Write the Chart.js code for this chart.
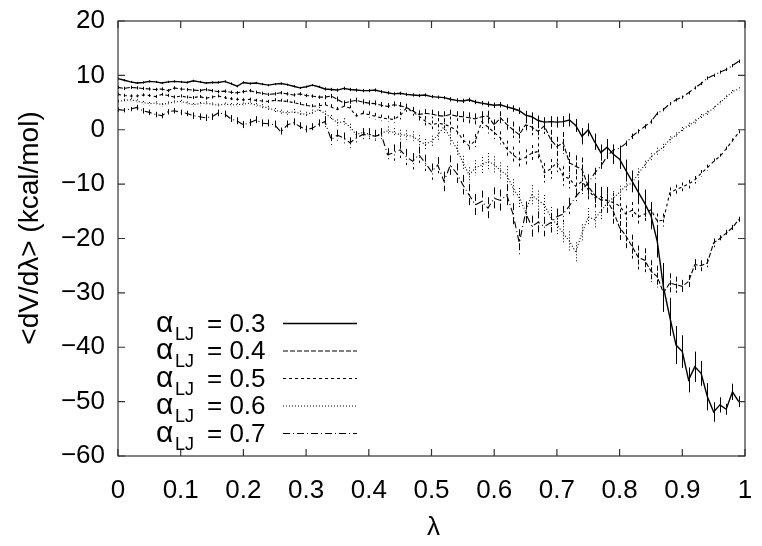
<!DOCTYPE html>
<html>
<head>
<meta charset="utf-8">
<script src="https://cdn.jsdelivr.net/npm/chart.js@4.4.1/dist/chart.umd.min.js"></script>
<style>
  html, body { margin: 0; padding: 0; background: #fff; }
  canvas { display: block; }
</style>
</head>
<body>
<canvas id="myChart" width="762" height="546"></canvas>
<script>
// lambda grid
const lambdas = [
  0.00, 0.01, 0.02, 0.03, 0.04, 0.05, 0.06, 0.07, 0.08, 0.09,
  0.10, 0.11, 0.12, 0.13, 0.14, 0.15, 0.16, 0.17, 0.18, 0.19,
  0.20, 0.21, 0.22, 0.23, 0.24, 0.25, 0.26, 0.27, 0.28, 0.29,
  0.30, 0.31, 0.32, 0.33, 0.34, 0.35, 0.36, 0.37, 0.38, 0.39,
  0.40, 0.41, 0.42, 0.43, 0.44, 0.45, 0.46, 0.47, 0.48, 0.49,
  0.50, 0.51, 0.52, 0.53, 0.54, 0.55, 0.56, 0.57, 0.58, 0.59,
  0.60, 0.61, 0.62, 0.63, 0.64, 0.65, 0.66, 0.67, 0.68, 0.69,
  0.70, 0.71, 0.72, 0.73, 0.74, 0.75, 0.76, 0.77, 0.78, 0.79,
  0.80, 0.81, 0.82, 0.83, 0.84, 0.85, 0.86, 0.87, 0.88, 0.89,
  0.90, 0.91, 0.92, 0.93, 0.94, 0.95, 0.96, 0.97, 0.98, 0.99
];
const alphaLJ = ['0.3', '0.4', '0.5', '0.6', '0.7'];
const xTicks = [0, 0.1, 0.2, 0.3, 0.4, 0.5, 0.6, 0.7, 0.8, 0.9, 1];
const yTicks = [-60, -50, -40, -30, -20, -10, 0, 10, 20];

// <dV/dlambda> (kcal/mol)
const dvdl_03 = [
  9.4, 9.1, 8.8, 8.6, 8.7, 8.9, 8.8, 8.6, 8.8, 8.9,
  8.8, 8.7, 9.0, 8.8, 8.6, 8.7, 8.7, 8.9, 8.5, 8.0,
  8.7, 8.5, 8.6, 8.4, 8.2, 8.4, 8.5, 8.3, 8.0, 7.7,
  7.9, 8.2, 7.9, 7.5, 7.4, 7.3, 7.6, 7.4, 7.3, 7.2,
  7.2, 7.3, 7.0, 6.8, 6.6, 6.7, 6.5, 6.4, 6.3, 6.4,
  6.1, 6.0, 5.9, 5.6, 5.4, 5.3, 5.5, 5.1, 4.9, 4.7,
  4.5, 4.6, 4.2, 3.9, 3.5, 2.7, 2.4, 1.7, 1.4, 1.5,
  1.4, 1.5, 1.8, 0.8, -1.2, 0.0, -2.2, -4.2, -3.2, -4.5,
  -5.4, -7.5, -9.5, -11.5, -13.5, -15.8, -20.5, -29.0, -34.4, -39.6,
  -40.8, -46.0, -43.6, -44.8, -49.1, -51.9, -50.6, -51.4, -48.2, -50.0
];
const dvdl_04 = [
  7.8, 7.6, 7.8, 7.7, 7.6, 7.5, 7.4, 7.5, 7.2, 7.7,
  7.5, 7.4, 7.3, 7.2, 7.4, 7.2, 7.0, 7.1, 6.9, 6.8,
  7.0, 7.2, 6.9, 6.7, 6.5, 6.6, 6.8, 6.6, 6.4, 6.6,
  6.3, 6.2, 6.0, 6.0, 6.2, 5.6, 4.9, 5.2, 5.4, 5.1,
  4.9, 4.8, 4.5, 4.3, 4.6, 4.4, 4.1, 3.5, 2.8, 3.0,
  2.9, 2.6, 2.5, 2.8, 2.5, 2.4, 2.2, 2.0, 2.4, 2.5,
  0.9, 2.2, 1.0, 0.0, -0.9, 0.9, 0.5, -0.3, 0.7, -1.8,
  -3.1, -2.4, -6.1, -6.7, -7.3, -10.4, -12.0, -12.9, -13.0, -15.0,
  -18.0, -19.5, -21.5, -23.5, -24.0, -26.0, -27.0, -30.0, -28.2, -28.5,
  -28.8, -27.9, -24.8, -25.0, -24.5, -20.8, -20.0, -19.0, -18.0, -16.5
];
const dvdl_05 = [
  6.5, 6.3, 6.2, 6.2, 6.4, 6.3, 6.1, 6.5, 6.3, 6.0,
  6.2, 6.0, 5.9, 6.1, 5.8, 6.0, 6.2, 5.9, 5.7, 5.6,
  5.5, 5.6, 5.4, 5.3, 5.2, 5.4, 5.3, 5.2, 5.0, 4.7,
  4.5, 4.3, 4.4, 4.6, 4.2, 3.7, 4.3, 4.0, 2.5, 3.0,
  2.8, 2.5, 2.2, 2.0, 1.9, 2.6, 4.0, 3.3, 2.5, 1.6,
  0.9, 1.2, 1.0, 0.6, -0.2, -1.8, -3.0, -2.0, 1.5, 0.5,
  -0.5, -1.5, -3.5, -4.6, -5.5, -5.1, -4.3, -4.0, -7.9, -7.2,
  -6.0, -8.5, -9.0, -10.4, -9.5, -11.0, -12.5, -12.3, -13.0, -13.4,
  -14.0, -15.5, -14.8, -16.0, -15.5, -14.7, -16.8, -16.6, -11.6, -11.0,
  -10.5, -10.0, -9.2, -8.0, -7.0, -5.8, -4.9, -3.5, -2.0, -0.5
];
const dvdl_06 = [
  5.2, 5.4, 5.5, 5.3, 5.0, 4.8, 4.9, 4.6, 4.9, 5.1,
  5.2, 4.9, 4.6, 4.8, 4.9, 4.7, 4.5, 4.7, 4.6, 4.6,
  4.7, 4.9, 4.6, 4.3, 4.0, 3.6, 3.3, 3.1, 3.3, 3.0,
  2.8, 3.2, 3.7, 3.0, 2.2, 1.3, 1.5, 0.5, -0.9, -0.5,
  -0.8, -1.2, -0.6, -0.2, -0.5, -0.9, -1.0, -1.2, -2.0, -2.7,
  -2.1, -1.0, 0.6, -1.5, -3.4, -6.0, -8.3, -7.0, -6.5, -5.8,
  -6.4, -7.5, -8.3, -10.7, -12.5, -15.0, -12.0, -13.0, -13.8, -16.0,
  -17.5, -19.0, -20.5, -22.5, -19.0, -16.0, -16.5, -15.0, -13.5, -12.5,
  -11.5, -10.3, -9.8, -8.0, -6.5, -5.0, -4.0, -3.2, -1.8, -1.0,
  0.0, 0.8, 1.5, 2.5, 3.1, 4.0, 5.0, 6.0, 7.0, 7.5
];
const dvdl_07 = [
  3.7, 3.6, 3.8, 4.1, 3.5, 3.2, 2.8, 2.6, 3.3, 3.5,
  3.2, 3.0, 2.6, 2.4, 2.2, 2.4, 3.1, 2.9, 2.0, 1.6,
  0.9, 1.3, 1.8, 1.2, 1.1, 0.9, -0.4, 0.9, 1.3, 0.6,
  0.0, 0.3, 1.0, 1.5, -1.8, -1.0, -1.5, -2.4, -1.5, -0.9,
  -0.9, -1.2, -0.9, -4.6, -4.2, -3.7, -5.0, -5.8, -4.6, -6.1,
  -7.7, -6.5, -9.5, -6.5, -8.0, -10.1, -12.0, -13.8, -13.2, -14.4,
  -12.6, -13.0, -12.0, -15.5, -20.8, -15.3, -17.8, -17.0, -17.8, -17.1,
  -16.0, -15.5, -14.0, -12.3, -11.0, -9.8, -8.0, -6.7, -4.9, -3.7,
  -3.4, -2.5, -1.2, -0.3, 0.6, 1.5, 3.0, 3.7, 4.8, 5.5,
  6.0, 6.8, 7.7, 8.5, 9.5, 10.0, 10.6, 11.1, 11.8, 12.6
];

// error bars (half widths)
const err_03 = [
  0.2, 0.2, 0.2, 0.2, 0.2, 0.2, 0.2, 0.2, 0.2, 0.2,
  0.2, 0.2, 0.2, 0.2, 0.2, 0.2, 0.2, 0.2, 0.2, 0.2,
  0.2, 0.2, 0.2, 0.2, 0.2, 0.2, 0.2, 0.2, 0.2, 0.2,
  0.2, 0.2, 0.2, 0.3, 0.3, 0.3, 0.3, 0.3, 0.3, 0.3,
  0.3, 0.3, 0.3, 0.3, 0.3, 0.3, 0.3, 0.3, 0.3, 0.3,
  0.3, 0.3, 0.3, 0.4, 0.4, 0.4, 0.4, 0.4, 0.4, 0.5,
  0.5, 0.5, 0.5, 0.6, 0.6, 0.8, 0.8, 0.9, 0.9, 1.0,
  1.0, 1.0, 1.2, 1.2, 1.5, 1.2, 1.5, 1.5, 1.5, 1.8,
  1.8, 2.0, 2.0, 2.2, 2.5, 2.5, 3.0, 4.5, 3.5, 3.5,
  3.0, 2.3, 2.8, 2.3, 2.5, 1.8, 1.4, 1.0, 1.5, 1.0
];
const err_04 = [
  0.3, 0.3, 0.3, 0.3, 0.3, 0.3, 0.3, 0.3, 0.3, 0.3,
  0.3, 0.3, 0.3, 0.3, 0.3, 0.3, 0.3, 0.3, 0.3, 0.3,
  0.3, 0.3, 0.3, 0.3, 0.3, 0.3, 0.3, 0.3, 0.3, 0.3,
  0.3, 0.3, 0.3, 0.4, 0.4, 0.5, 0.5, 0.5, 0.5, 0.5,
  0.5, 0.6, 0.6, 0.6, 0.6, 0.7, 0.7, 0.7, 0.8, 0.8,
  0.8, 0.8, 0.9, 0.9, 0.9, 1.0, 1.0, 1.0, 1.0, 1.0,
  1.0, 1.2, 1.2, 1.5, 1.5, 1.2, 1.5, 1.5, 1.5, 1.8,
  1.8, 2.0, 2.0, 2.0, 2.2, 2.2, 2.2, 2.2, 2.5, 2.5,
  2.5, 2.5, 2.2, 2.2, 2.2, 2.0, 2.0, 2.5, 1.8, 1.5,
  1.2, 1.2, 1.0, 1.0, 0.8, 0.8, 0.6, 0.6, 0.5, 0.5
];
const err_05 = [
  0.3, 0.3, 0.3, 0.3, 0.3, 0.3, 0.3, 0.3, 0.3, 0.3,
  0.3, 0.3, 0.3, 0.3, 0.3, 0.3, 0.3, 0.3, 0.3, 0.3,
  0.3, 0.3, 0.3, 0.3, 0.3, 0.4, 0.4, 0.4, 0.4, 0.4,
  0.4, 0.4, 0.5, 0.5, 0.5, 0.5, 0.5, 0.5, 0.5, 0.5,
  0.6, 0.6, 0.6, 0.6, 0.6, 0.7, 0.7, 0.7, 0.8, 0.8,
  0.8, 0.9, 0.9, 0.9, 1.0, 1.0, 1.0, 1.2, 1.2, 1.2,
  1.2, 1.2, 1.5, 1.5, 1.5, 1.5, 1.5, 1.5, 1.8, 1.8,
  1.8, 1.8, 1.8, 1.8, 1.8, 1.8, 1.8, 1.8, 1.8, 1.8,
  1.6, 1.6, 1.5, 1.5, 1.5, 1.4, 1.4, 1.2, 1.0, 0.9,
  0.8, 0.8, 0.7, 0.6, 0.6, 0.5, 0.5, 0.4, 0.4, 0.4
];
const err_06 = [
  0.3, 0.3, 0.3, 0.3, 0.3, 0.3, 0.3, 0.3, 0.3, 0.3,
  0.3, 0.3, 0.3, 0.3, 0.3, 0.3, 0.3, 0.3, 0.3, 0.3,
  0.3, 0.3, 0.3, 0.4, 0.4, 0.4, 0.4, 0.4, 0.5, 0.5,
  0.5, 0.5, 0.5, 0.5, 0.5, 0.6, 0.6, 0.6, 0.6, 0.6,
  0.7, 0.7, 0.8, 0.8, 0.8, 0.9, 0.9, 0.9, 1.0, 1.0,
  1.0, 1.0, 1.2, 1.2, 1.2, 1.2, 1.4, 1.4, 1.5, 1.5,
  1.5, 1.5, 1.6, 1.6, 1.8, 1.8, 1.8, 1.8, 1.8, 1.8,
  1.8, 1.8, 1.8, 1.8, 1.6, 1.6, 1.5, 1.5, 1.4, 1.2,
  1.2, 1.0, 1.0, 0.9, 0.8, 0.7, 0.7, 0.6, 0.6, 0.5,
  0.5, 0.5, 0.4, 0.4, 0.4, 0.3, 0.3, 0.3, 0.3, 0.3
];
const err_07 = [
  0.4, 0.4, 0.4, 0.5, 0.5, 0.5, 0.5, 0.5, 0.5, 0.5,
  0.5, 0.5, 0.6, 0.6, 0.6, 0.6, 0.6, 0.6, 0.7, 0.7,
  0.7, 0.7, 0.7, 0.7, 0.8, 0.8, 0.8, 0.8, 0.8, 0.8,
  0.8, 0.9, 0.9, 1.0, 1.0, 1.0, 1.0, 1.0, 1.2, 1.2,
  1.2, 1.2, 1.2, 1.2, 1.5, 1.5, 1.5, 1.5, 1.5, 1.5,
  1.5, 1.5, 1.8, 1.8, 1.8, 1.8, 2.0, 2.0, 2.0, 2.0,
  2.0, 2.0, 2.0, 2.0, 2.5, 2.0, 2.0, 2.0, 1.8, 1.8,
  1.5, 1.5, 1.5, 1.2, 1.2, 1.0, 1.0, 0.8, 0.8, 0.6,
  0.5, 0.5, 0.5, 0.4, 0.4, 0.4, 0.3, 0.3, 0.3, 0.3,
  0.3, 0.3, 0.3, 0.3, 0.3, 0.3, 0.3, 0.3, 0.3, 0.3
];

const seriesValues = [dvdl_03, dvdl_04, dvdl_05, dvdl_06, dvdl_07];
const seriesErrors = [err_03, err_04, err_05, err_06, err_07];
const lineDashes = [[], [5, 2], [3, 3], [1, 2], [7, 3, 1, 3]];

const FONT = "'Liberation Sans', Arial, Helvetica, sans-serif";
const INK = '#000';

// error bars, drawn through the y scale
const errorBars = {
    id: 'errorBars',
    afterDatasetsDraw(chart) {
        const {ctx, chartArea: a, scales: {y}} = chart;
        ctx.save();
        ctx.beginPath();
        ctx.rect(a.left, a.top, a.right - a.left, a.bottom - a.top);
        ctx.clip();
        ctx.strokeStyle = INK;
        ctx.lineWidth = 1;
        chart.data.datasets.forEach((ds, i) => {
            const meta = chart.getDatasetMeta(i);
            ctx.setLineDash(ds.borderDash);
            ctx.beginPath();
            meta.data.forEach((pt, j) => {
                const v = ds.data[j].y, e = ds.errors[j];
                const px = Math.round(pt.x) + 0.5;
                ctx.moveTo(px, y.getPixelForValue(v + e));
                ctx.lineTo(px, y.getPixelForValue(v - e));
            });
            ctx.stroke();
        });
        ctx.restore();
    }
};

// gnuplot-style box with inward ticks on all four sides
const frame = {
    id: 'frame',
    afterDraw(chart) {
        const {ctx, chartArea: a, scales: {x, y}} = chart;
        const len = 7;
        ctx.save();
        ctx.strokeStyle = '#333';
        ctx.lineWidth = 1.2;
        ctx.setLineDash([]);
        ctx.strokeRect(a.left, a.top, a.right - a.left, a.bottom - a.top);
        ctx.beginPath();
        x.ticks.forEach(t => {
            const px = x.getPixelForValue(t.value);
            ctx.moveTo(px, a.bottom); ctx.lineTo(px, a.bottom - len);
            ctx.moveTo(px, a.top); ctx.lineTo(px, a.top + len);
        });
        y.ticks.forEach(t => {
            const py = y.getPixelForValue(t.value);
            ctx.moveTo(a.left, py); ctx.lineTo(a.left + len, py);
            ctx.moveTo(a.right, py); ctx.lineTo(a.right - len, py);
        });
        ctx.stroke();
        ctx.restore();
    }
};

// legend inside the plot, with subscripted alpha_LJ
const lowerLegend = {
    id: 'lowerLegend',
    afterDraw(chart) {
        const {ctx, chartArea: a} = chart;
        const n = chart.data.datasets.length;
        const step = 27.5;
        const lastBase = a.bottom - 14.5;
        ctx.save();
        ctx.fillStyle = INK;
        ctx.strokeStyle = INK;
        ctx.textBaseline = 'alphabetic';
        chart.data.datasets.forEach((ds, i) => {
            const base = lastBase - (n - 1 - i) * step;
            ctx.textAlign = 'left';
            ctx.font = '30px ' + FONT;
            ctx.fillText('\u03b1', a.left + 38, base);
            ctx.font = '18px ' + FONT;
            ctx.fillText('LJ', a.left + 57, base + 8);
            ctx.font = '26px ' + FONT;
            ctx.fillText('= ' + ds.label, a.left + 89, base);
            ctx.lineWidth = ds.borderWidth;
            ctx.setLineDash(ds.borderDash);
            ctx.beginPath();
            ctx.moveTo(a.left + 165, base - 8);
            ctx.lineTo(a.left + 239, base - 8);
            ctx.stroke();
        });
        ctx.restore();
    }
};

// axis titles
const axisTitles = {
    id: 'axisTitles',
    afterDraw(chart) {
        const {ctx, chartArea: a} = chart;
        ctx.save();
        ctx.fillStyle = INK;
        ctx.textAlign = 'center';
        ctx.textBaseline = 'middle';
        ctx.font = '26px ' + FONT;
        ctx.fillText('\u03bb', (a.left + a.right) / 2 + 2, 528);
        ctx.translate(30, 228);
        ctx.rotate(-Math.PI / 2);
        ctx.font = '28px ' + FONT;
        ctx.fillText('<dV/d\u03bb> (kcal/mol)', 0, 0);
        ctx.restore();
    }
};

const datasets = seriesValues.map((vals, i) => ({
    label: alphaLJ[i],
    data: lambdas.map((l, j) => ({x: l, y: vals[j]})),
    errors: seriesErrors[i],
    borderColor: INK,
    borderWidth: i === 0 ? 1.4 : 1.1,
    borderDash: lineDashes[i],
    pointRadius: 0,
    tension: 0,
    fill: false
}));

const ctx = document.getElementById('myChart').getContext('2d');
const chart = new Chart(ctx, {
    type: 'line',
    data: {datasets: datasets},
    options: {
        responsive: false,
        animation: false,
        devicePixelRatio: 1,
        layout: {padding: {top: 21, right: 17, left: 0, bottom: 0}},
        plugins: {legend: {display: false}, tooltip: {enabled: false}},
        scales: {
            x: {
                type: 'linear',
                min: 0,
                max: 1,
                afterFit(scale) {
                    scale.height = 90;
                    scale.paddingLeft = 0;
                    scale.paddingRight = 0;
                },
                afterBuildTicks(scale) { scale.ticks = xTicks.map(v => ({value: v})); },
                grid: {display: false, drawTicks: false},
                border: {display: false},
                ticks: {
                    padding: 19,
                    color: INK,
                    font: {family: FONT, size: 26},
                    maxRotation: 0,
                    callback: v => String(v)
                }
            },
            y: {
                min: -60,
                max: 20,
                afterFit(scale) {
                    scale.width = 118;
                    scale.paddingTop = 0;
                    scale.paddingBottom = 0;
                },
                afterBuildTicks(scale) { scale.ticks = yTicks.map(v => ({value: v})); },
                grid: {display: false, drawTicks: false},
                border: {display: false},
                ticks: {
                    padding: 13,
                    color: INK,
                    font: {family: FONT, size: 26},
                    callback: v => String(v).replace('-', '\u2212')
                }
            }
        }
    },
    plugins: [errorBars, frame, lowerLegend, axisTitles]
});
</script>
</body>
</html>
